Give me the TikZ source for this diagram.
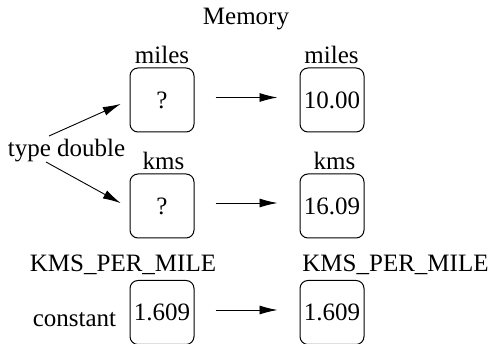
\documentclass[tikz,border=0pt]{standalone}
\usepackage{fontspec}
\setmainfont{Liberation Serif}
\usetikzlibrary{arrows.meta}
\begin{document}
\begin{tikzpicture}[x=1pt,y=-1pt,
  every node/.style={font=\fontsize{25}{30}\selectfont},
  lbl/.style={anchor=base, inner sep=0},
  cell/.style={draw, line width=1pt, rounded corners=8pt,
    minimum width=64pt, minimum height=64pt, inner sep=0},
  arr/.style={-{Latex[length=18pt,width=9pt]}, line width=0.9pt}]
\useasboundingbox (0,0) rectangle (493,344);

% heading
\node[lbl] (mem) at (246,25) {Memory};

% variable names
\node[lbl] (nm1) at (162,64) {miles};
\node[lbl] (nm2) at (331.5,64) {miles};
\node[lbl] (nk1) at (163.5,170) {kms};
\node[lbl] (nk2) at (334.5,170) {kms};
\node[lbl] (nc1) at (123,272) {KMS\_PER\_MILE};
\node[lbl] (nc2) at (395.5,272) {KMS\_PER\_MILE};

% side notes
\node[lbl] (td) at (66.5,157) {type double};
\node[lbl] (cst) at (74.5,327) {constant};

% memory cells, before and after
\node[cell] (m1) at (162,100) {?};
\node[cell] (m2) at (332,100) {10.00};
\node[cell] (k1) at (162,206) {?};
\node[cell] (k2) at (332,206) {16.09};
\node[cell] (c1) at (162,312.5) {1.609};
\node[cell] (c2) at (332,312.5) {1.609};

% type arrows
\coordinate (s1) at (49,136);
\coordinate (s2) at (46,162);
\draw[arr, shorten >=9.5pt] (s1) -- (m1.west);
\draw[arr, shorten >=10pt] (s2) -- ([yshift=-2pt]k1.west);

% state change arrows
\draw[arr, shorten <=21pt, shorten >=22pt] ([yshift=2.5pt]m1.east) -- ([yshift=2.5pt]m2.west);
\draw[arr, shorten <=21pt, shorten >=22pt] ([yshift=3pt]k1.east) -- ([yshift=3pt]k2.west);
\draw[arr, shorten <=21pt, shorten >=22pt] ([yshift=2.5pt]c1.east) -- ([yshift=2.5pt]c2.west);
\end{tikzpicture}
\end{document}
